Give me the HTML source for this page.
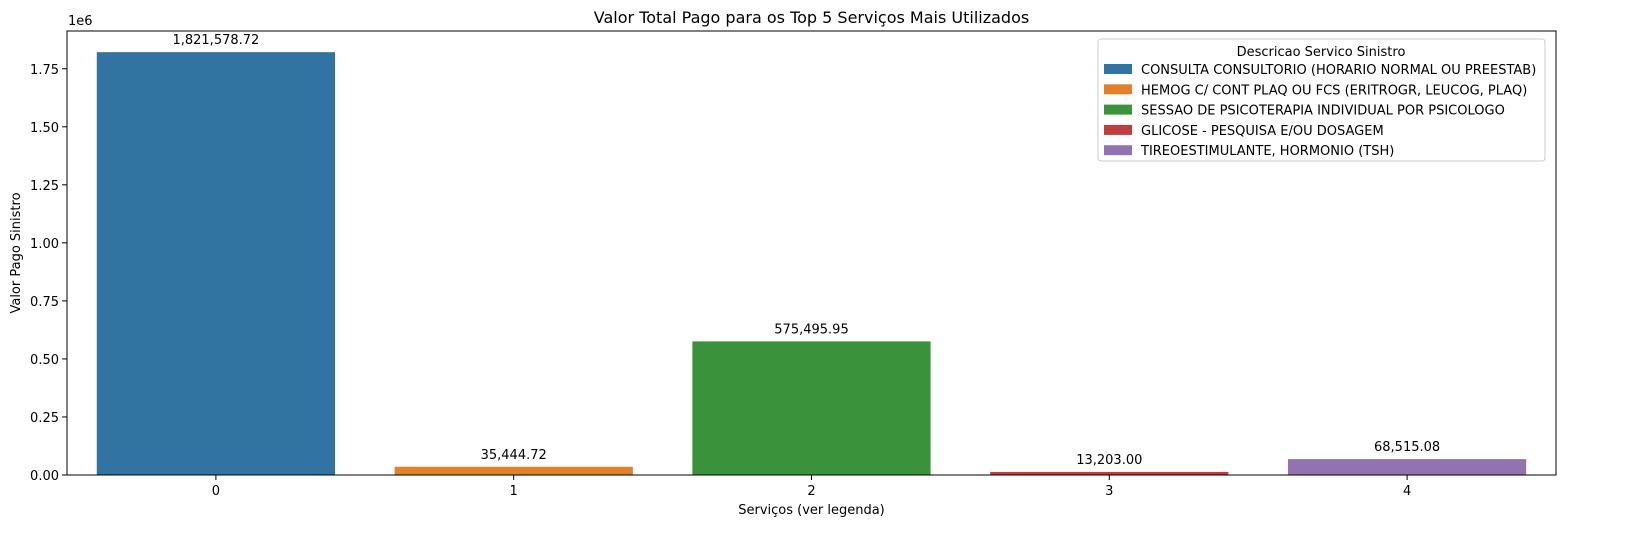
<!DOCTYPE html>
<html><head><meta charset="utf-8"><style>
html,body{margin:0;padding:0;background:#fff;overflow:hidden;width:1630px;height:547px;}
svg{display:block;}
svg text{font-family:"DejaVu Sans","Liberation Sans",sans-serif;}
</style></head><body>
<svg width="1630" height="547" xmlns="http://www.w3.org/2000/svg">
<rect width="1630" height="547" fill="#fff"/>
<g id="plot"></g>
</svg>
<script>
const categories=["0","1","2","3","4"];
const values=[1821578.72,35444.72,575495.95,13203.00,68515.08];
const valueLabels=["1,821,578.72","35,444.72","575,495.95","13,203.00","68,515.08"];
const legendLabels=["CONSULTA CONSULTORIO (HORARIO NORMAL OU PREESTAB)","HEMOG C/ CONT PLAQ OU FCS (ERITROGR, LEUCOG, PLAQ)","SESSAO DE PSICOTERAPIA INDIVIDUAL POR PSICOLOGO","GLICOSE - PESQUISA E/OU DOSAGEM","TIREOESTIMULANTE, HORMONIO (TSH)"];
const yTicks=[0,0.25,0.5,0.75,1.0,1.25,1.5,1.75];
const yTickLabels=["0.00","0.25","0.50","0.75","1.00","1.25","1.50","1.75"];
const colors=["#3274a1","#e1812c","#3a923a","#c03d3e","#9372b2"];
const L=67,R=1556,T=31,B=475;
const FS=13;
const ymax=Math.max(...values)*1.05;
const y=v=>B-(v/ymax)*(B-T);
const step=(R-L)/categories.length;
const x=i=>L+step*(i+0.5);
const g=document.getElementById('plot');
const NS="http://www.w3.org/2000/svg";
function mk(tag,at,txt){const e=document.createElementNS(NS,tag);for(const k in at)e.setAttribute(k,at[k]);if(txt!==undefined)e.textContent=txt;g.appendChild(e);return e;}
values.forEach((v,i)=>{
 const bw=step*0.8;
 const r=mk('rect',{x:x(i)-bw/2,y:y(v),width:bw,height:B-y(v),fill:colors[i]});
 
 
 const t=mk('text',{x:x(i),y:y(v)-8,'font-size':FS,'text-anchor':'middle'},valueLabels[i]);
 
 
 mk('line',{x1:x(i),x2:x(i),y1:B,y2:B+5,stroke:'#000'});
 const tl=mk('text',{x:x(i),y:B+20,'font-size':FS,'text-anchor':'middle'},categories[i]);
 
 
});
yTicks.forEach((t,i)=>{
 const yy=y(t*1e6);
 mk('line',{x1:L-5,x2:L,y1:yy,y2:yy,stroke:'#000'});
 const tl=mk('text',{x:L-8,y:yy+5,'font-size':FS,'text-anchor':'end'},yTickLabels[i]);
 
 
});
const fr=mk('rect',{x:L,y:T,width:R-L,height:B-T,fill:'none',stroke:'#000','stroke-width':1});


let e;
e=mk('text',{x:68,y:25,'font-size':FS},'1e6');

e=mk('text',{x:(L+R)/2,y:23,'font-size':16,'text-anchor':'middle'},'Valor Total Pago para os Top 5 Serviços Mais Utilizados');

e=mk('text',{x:(L+R)/2,y:514,'font-size':FS,'text-anchor':'middle'},'Serviços (ver legenda)');

e=mk('text',{x:20,y:(T+B)/2,'font-size':FS,'text-anchor':'middle',transform:'rotate(-90 20 '+((T+B)/2)+')'},'Valor Pago Sinistro');

e=mk('rect',{x:1098,y:39,width:447,height:122,fill:'#fff',stroke:'#ccc',rx:3});

e=mk('text',{x:1321,y:56,'font-size':FS,'text-anchor':'middle'},'Descricao Servico Sinistro');

legendLabels.forEach((lab,i)=>{
 const yy=69+i*20.3;
 const s=mk('rect',{x:1104,y:yy-5,width:28,height:10,fill:colors[i]});
 
 const t=mk('text',{x:1141,y:yy+5,'font-size':FS},lab);
 
});
</script>
</body></html>
